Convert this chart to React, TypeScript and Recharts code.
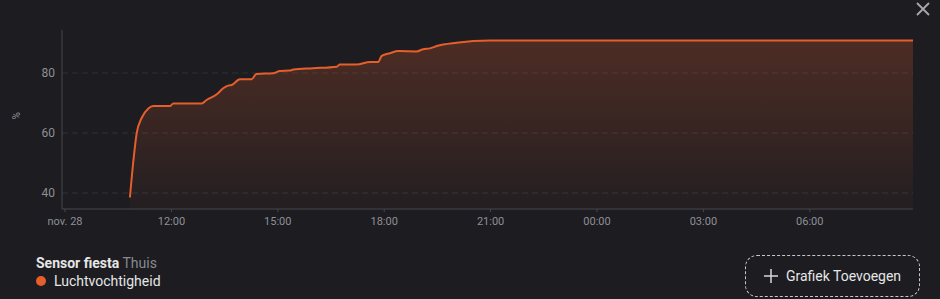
import { Area, AreaChart, CartesianGrid, XAxis, YAxis } from "recharts";

// hours since 09:00 on nov. 28
const hours = [
  1.83, 1.93, 2.02, 2.16, 2.35, 2.49, 2.96, 3.05, 3.85, 3.99, 4.28, 4.46, 4.6, 4.7, 4.93, 5.26,
  5.4, 5.87, 6.06, 6.34, 6.44, 7.0, 7.66, 7.75, 8.22, 8.6, 8.83, 8.93, 9.16, 9.4, 9.91, 10.1,
  10.29, 10.48, 11.04, 11.98, 14, 17, 20, 23.91,
];
const humidity = [
  38.5, 51, 59.9, 65, 68.2, 69, 69, 69.8, 69.8, 71, 72.9, 74.9, 75.8, 76, 77.9, 77.9,
  79.7, 79.9, 80.7, 80.8, 81.2, 81.6, 82.1, 82.8, 82.8, 83.7, 83.7, 85.7, 86.6, 87.3, 87.2, 87.9,
  88.2, 89, 90.1, 90.8, 90.8, 90.8, 90.8, 90.8,
];
const tickHours = [0, 3, 6, 9, 12, 15, 18, 21];
const tickLabels = ["nov. 28", "12:00", "15:00", "18:00", "21:00", "00:00", "03:00", "06:00"];
const yTicks = [40, 60, 80];

const rows = hours.map((h, i) => ({ h, v: humidity[i] }));

const BG = "#1c1c21";
const ORANGE = "#e65f2b";
const AXIS = "#46464c";
const TICK = "#8f8f95";

export default function App() {
  return (
    <div style={{ position: "fixed", left: 0, top: 0, width: 940, height: 299, background: BG,
                  fontFamily: "Roboto, sans-serif", overflow: "hidden" }}>
      <AreaChart width={940} height={240} data={rows} margin={{ top: 30, right: 27, bottom: 6, left: 0 }}>
        <defs>
          <linearGradient id="fillHum" x1="0" y1="0" x2="0" y2="1">
            <stop offset="0%" stopColor={ORANGE} stopOpacity={0.4} />
            <stop offset="100%" stopColor={ORANGE} stopOpacity={0.06} />
          </linearGradient>
        </defs>
        <CartesianGrid stroke="#303036" strokeDasharray="6 4" vertical={false} horizontalValues={yTicks} />
        <XAxis dataKey="h" type="number" domain={[-0.085, 23.91]} ticks={tickHours}
               tickFormatter={(v: number) => tickLabels[tickHours.indexOf(v)]}
               height={25} tickSize={3} tickMargin={5} interval={0}
               axisLine={{ stroke: AXIS }} tickLine={{ stroke: AXIS }}
               tick={{ fontSize: 11, fill: TICK, fontFamily: "Roboto" }} />
        <YAxis type="number" domain={[34.67, 94.33]} ticks={yTicks} width={62} tickSize={4} tickMargin={3}
               axisLine={{ stroke: AXIS }} tickLine={false}
               tick={{ fontSize: 12, fill: TICK, fontFamily: "Roboto" }}
               label={{ value: "%", angle: -90, position: "insideLeft", offset: 16,
                        style: { fontSize: 10, fill: TICK, fontFamily: "Roboto" } }} />
        <Area type="monotone" dataKey="v" stroke={ORANGE} strokeWidth={2} fill="url(#fillHum)"
              baseValue={34.67} isAnimationActive={false} dot={false} activeDot={false} />
      </AreaChart>

      <svg width={16} height={16} style={{ position: "absolute", left: 915, top: 1 }}>
        <path d="M2 2 L14 14 M14 2 L2 14" stroke="#a8a8ac" strokeWidth={1.8} />
      </svg>

      <div style={{ position: "absolute", left: 36, top: 254, fontSize: 14, lineHeight: "18px" }}>
        <span style={{ color: "#e6e6e6", fontWeight: 700 }}>Sensor fiesta</span>
        <span style={{ color: "#8a8a8e" }}> Thuis</span>
      </div>
      <div style={{ position: "absolute", left: 36, top: 272, fontSize: 14, lineHeight: "18px",
                    color: "#e6e6e6", display: "flex", alignItems: "center" }}>
        <span style={{ width: 10, height: 10, borderRadius: 5, background: ORANGE, display: "inline-block",
                       marginRight: 8 }} />
        Luchtvochtigheid
      </div>

      <div style={{ position: "absolute", left: 745, top: 255, width: 173, height: 40,
                    border: "1.5px dashed #c8c8cc", borderRadius: 12, color: "#e6e6e6", fontSize: 14,
                    display: "flex", alignItems: "center", justifyContent: "center", gap: 8 }}>
        <svg width={14} height={14}>
          <path d="M7 0 V14 M0 7 H14" stroke="#d8d8dc" strokeWidth={1.5} />
        </svg>
        Grafiek Toevoegen
      </div>
    </div>
  );
}
